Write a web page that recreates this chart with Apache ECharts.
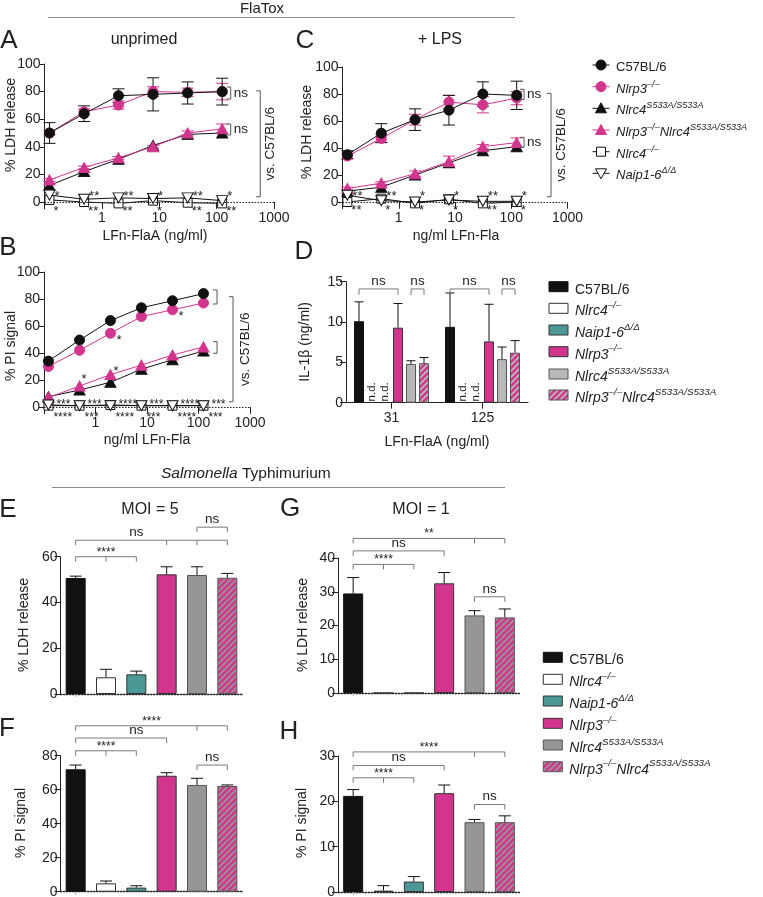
<!DOCTYPE html>
<html><head><meta charset="utf-8">
<script src="https://cdn.jsdelivr.net/npm/echarts@6/dist/echarts.min.js"></script>
<style>html,body{margin:0;padding:0;background:#fff}#c{width:763px;height:897px}</style>
</head><body><div id="c"></div>
<script>
// ===================== DATA =====================
const conc = [0.122, 0.49, 1.95, 7.8, 31.25, 125];
const lineYTicks = [0, 20, 40, 60, 80, 100];
// Panel A (unprimed, % LDH release)
const aC57 = [50, 64, 77, 78, 79, 80];
const aC57Err = [7.5, 5.7, 5, 12, 8, 9.7];
const aNlrp3 = [50, 65.4, 70.3, 80, 79.5, 80];
const aNlrp3Err = [1.5, 2, 3, 3.5, 3, 6];
const aS533A = [12, 22, 31, 41, 49, 50];
const aDbl = [16, 25, 32, 40, 50, 53];
const aDblErr = [1, 1, 1, 1, 1.5, 3.5];
const aNlrc4 = [1.5, 0, -1, 1, -0.5, -1];
const aNaip = [5, 2, 3, 2.5, 3, 1];
const aStarsTop = ['*', '**', '**', '*', '**', '*'];
const aStarsBot = ['*', '**', '**', '*', '**', '**'];
// Panel C (+LPS, % LDH release)
const cC57 = [35, 51, 61, 68, 80, 79];
const cC57Err = [3, 7, 8, 11, 9, 10.5];
const cNlrp3 = [34, 47, 61, 74, 72, 77];
const cNlrp3Err = [2, 3, 4, 5, 6, 5];
const cS533A = [8, 11, 20, 29, 38, 41];
const cDbl = [10, 14, 21, 30, 41, 44];
const cDblErr = [1, 1, 2, 4, 1.5, 3.5];
const cNlrc4 = [0, 2.5, -1, 2, -1, 0];
const cNaip = [5, 1, 0, 1.5, 0.5, 0.5];
const cStarsTop = ['**', '**', '*', '*', '**', '*'];
const cStarsBot = ['**', '*', '*', '*', '**', '*'];
// Panel B (% PI signal)
const bC57 = [34, 49.6, 64, 73.5, 78.7, 84];
const bNlrp3 = [30, 42, 54.6, 67, 72, 77];
const bS533A = [7.6, 12.6, 18.3, 28, 35, 41.5];
const bDbl = [7, 15.5, 24, 31, 38.5, 44.5];
const bNlrc4 = [1, 1, 1.5, 1, 1, 1];
const bNaip = [1.5, 1, 1, 1, 1, 1];
const bStarsTop = ['***', '***', '****', '***', '****', '***'];
const bStarsBot = ['****', '***', '****', '***', '****', '***'];
// Panel D (IL-1beta ng/ml)
const dCats = ['31', '125'];
const dC57 = [10.1, 9.4],  dC57Err = [2.4, 4.2];
const dNlrc4 = [null, null], dNaip = [null, null];
const dNlrp3 = [9.3, 7.6], dNlrp3Err = [3.0, 4.6];
const dS533A = [4.8, 5.4], dS533AErr = [0.4, 1.5];
const dDbl = [4.9, 6.2],   dDblErr = [0.7, 1.5];
// Panels E-H (Salmonella)
const genotypes = ['C57BL/6', 'Nlrc4-/-', 'Naip1-6', 'Nlrp3-/-', 'Nlrc4 S533A', 'Nlrp3-/- Nlrc4 S533A'];
const eLDH = [50.7, 7.3, 8.6, 52.3, 52, 50.8], eErr = [0.8, 3.5, 1.4, 3.3, 3.6, 1.9];
const fPI  = [72, 4.9, 2.4, 68.2, 62.8, 62.2], fErr = [2.5, 1.4, 1.1, 1.8, 3.9, 0.6];
const gLDH = [29.5, 0, 0, 32.5, 23, 22.4],     gErr = [4.7, 0, 0, 3.2, 1.4, 2.5];
const hPI  = [21.2, 0.3, 2.3, 21.8, 15.4, 15.4], hErr = [1.4, 1.1, 1.1, 1.8, 0.6, 1.4];

// ===================== STYLE =====================
const FONT = '"Liberation Sans", Arial, Helvetica, sans-serif';
const BLACK = '#111111', PINK = '#d2358e', TEAL = '#4b9896', GREYD = '#b8b8b8', GREYE = '#969696', BR = '#7a7a7a', TXT = '#222';
const Y_MIN_LINE = -5;

function hatch(bg, stripe) {
  const s = 6, c = document.createElement('canvas'); c.width = s; c.height = s;
  const g = c.getContext('2d');
  g.fillStyle = bg; g.fillRect(0, 0, s, s);
  g.strokeStyle = stripe; g.lineWidth = 1.8;
  g.beginPath();
  g.moveTo(0, s); g.lineTo(s, 0);
  g.moveTo(-s / 2, s / 2); g.lineTo(s / 2, -s / 2);
  g.moveTo(s / 2, s * 1.5); g.lineTo(s * 1.5, s / 2);
  g.stroke();
  return c;
}
const hatchD = hatch(PINK, '#b9b9b9');
const hatchE = hatch(PINK, '#969696');

const grids = [
  {left: 44.5, top: 64, width: 229.5, height: 144.9},  // 0 A
  {left: 44, top: 272, width: 206, height: 141.75},    // 1 B
  {left: 342.5, top: 67, width: 225, height: 141.75},  // 2 C
  {left: 346, top: 281.7, width: 182, height: 121},    // 3 D
  {left: 60.5, top: 556.7, width: 182, height: 137.3}, // 4 E
  {left: 60.5, top: 755.7, width: 182, height: 136},   // 5 F
  {left: 338, top: 558, width: 182, height: 135},      // 6 G
  {left: 338, top: 756, width: 182, height: 136}       // 7 H
];

function logX(gi, tickLen) {
  return {type: 'log', gridIndex: gi, logBase: 10, min: 0.1, max: 1000,
    axisLine: {show: false, onZero: false},
    axisTick: {show: true, length: tickLen, inside: true, lineStyle: {color: '#222'}},
    axisLabel: {fontSize: 14, color: TXT, fontFamily: FONT, margin: 2,
      formatter: v => (v < 0.5 ? '' : String(Math.round(v)))},
    splitLine: {show: false}, minorTick: {show: false}, minorSplitLine: {show: false}};
}
function lineY(gi) {
  return {type: 'value', gridIndex: gi, min: Y_MIN_LINE, max: 100,
    axisLine: {show: true, onZero: false, lineStyle: {color: '#222'}},
    axisTick: {show: true, length: 5, customValues: lineYTicks, lineStyle: {color: '#222'}},
    axisLabel: {fontSize: 14, color: TXT, margin: 4, fontFamily: FONT, customValues: lineYTicks},
    splitLine: {show: false}};
}
function barY(gi, max, interval) {
  return {type: 'value', gridIndex: gi, min: 0, max: max, interval: interval,
    axisLine: {show: true, onZero: false, lineStyle: {color: '#222'}},
    axisTick: {show: true, length: 6, lineStyle: {color: '#222'}},
    axisLabel: {fontSize: 14, color: TXT, margin: 3, fontFamily: FONT},
    splitLine: {show: false}};
}
function catX(gi, cats, showLabels) {
  return {type: 'category', gridIndex: gi, data: cats, boundaryGap: true,
    axisLine: {show: true, onZero: false, lineStyle: showLabels ? {color: '#222', width: 1} : {color: '#222', type: [1.5, 1.5], width: 1.3}},
    axisTick: {show: true, alignWithLabel: true, length: showLabels ? 6 : 3, lineStyle: {color: showLabels ? '#222' : '#aaa'}},
    axisLabel: {show: showLabels, fontSize: 14, color: TXT, fontFamily: FONT, margin: 8},
    splitLine: {show: false}};
}

// ---------- series helpers ----------
function lineSeries(gi, ys, color, fill, symbol, size, rotate, z) {
  return {type: 'line', xAxisIndex: gi, yAxisIndex: gi, data: conc.map((c, i) => [c, ys[i]]),
    symbol: symbol, symbolSize: size, symbolRotate: rotate || 0, showSymbol: true,
    itemStyle: {color: fill, borderColor: color, borderWidth: 1, opacity: 1},
    lineStyle: {color: color, width: 1}, z: z || 3, silent: true};
}
function errSeries(gi, xs, ys, errs, color, cap, upOnly, offsetPx) {
  const data = [];
  ys.forEach((v, i) => { if (v != null && errs[i] > 0) data.push([xs[i], v, errs[i]]); });
  return {type: 'custom', xAxisIndex: gi, yAxisIndex: gi, silent: true, clip: false, z: 2, data: data,
    renderItem: function (p, api) {
      const x = api.value(0), v = api.value(1), e = api.value(2);
      const top = api.coord([x, v + e]), bot = api.coord([x, upOnly ? v : v - e]);
      const cx = top[0] + (offsetPx || 0), hw = cap / 2;
      const st = {stroke: color, lineWidth: 1};
      const ch = [
        {type: 'line', shape: {x1: cx, y1: top[1], x2: cx, y2: bot[1]}, style: st},
        {type: 'line', shape: {x1: cx - hw, y1: top[1], x2: cx + hw, y2: top[1]}, style: st}];
      if (!upOnly) ch.push({type: 'line', shape: {x1: cx - hw, y1: bot[1], x2: cx + hw, y2: bot[1]}, style: st});
      return {type: 'group', children: ch};
    }};
}
function annotSeries(gi, list) {
  return {type: 'custom', xAxisIndex: gi, yAxisIndex: gi, silent: true, clip: false, z: 6,
    data: list.map(a => [a.x !== undefined ? a.x : a.x1, a.y !== undefined ? a.y : a.y1]),
    renderItem: function (params, api) {
      const a = list[params.dataIndex];
      const ch = [];
      const stroke = a.color || BR;
      const ts = (txt, size, align) => ({text: txt, fontSize: size, fontFamily: FONT, fill: TXT, align: align, verticalAlign: 'middle'});
      if (a.t === 'br') {
        const p1 = api.coord([a.x1, a.y]);
        const y = p1[1];
        const x1 = p1[0] + (a.o1 || 0);
        const x2 = api.coord([a.x2, a.y])[0] + (a.o2 || 0);
        const h = a.h || 5;
        ch.push({type: 'polyline', shape: {points: [[x1, y + h], [x1, y], [x2, y], [x2, y + h]]}, style: {fill: null, stroke: stroke, lineWidth: 1}});
        (a.mids || []).forEach(m => {
          const xm = api.coord([m, a.y])[0];
          ch.push({type: 'line', shape: {x1: xm, y1: y, x2: xm, y2: y + h}, style: {stroke: stroke, lineWidth: 1}});
        });
        if (a.text) {
          const tx = a.tx !== undefined ? api.coord([a.tx, a.y])[0] : (x1 + x2) / 2;
          const star = a.text.indexOf('*') >= 0;
          ch.push({type: 'text', x: tx, y: y + (star ? -4.5 : -8), style: ts(a.text, star ? 12 : 13.5, 'center')});
        }
      } else if (a.t === 'vb') {
        const p1 = api.coord([a.x, a.y1]), p2 = api.coord([a.x, a.y2]);
        const arm = a.arm || 4, x = p1[0];
        ch.push({type: 'polyline', shape: {points: [[x - arm, p1[1]], [x, p1[1]], [x, p2[1]], [x - arm, p2[1]]]}, style: {fill: null, stroke: a.color || '#555', lineWidth: 1}});
        if (a.text) {
          const ty = a.ty !== undefined ? api.coord([a.x, a.ty])[1] : (p1[1] + p2[1]) / 2;
          ch.push({type: 'text', x: x + a.tdx, y: ty, rotation: a.rot ? Math.PI / 2 : 0, style: ts(a.text, 13.5, a.rot ? 'center' : 'left')});
        }
      } else if (a.t === 'tx') {
        const p = api.coord([a.x, a.y]);
        ch.push({type: 'text', x: p[0] + (a.dx || 0), y: p[1], rotation: a.rot ? Math.PI / 2 : 0, style: ts(a.text, a.size || 13, a.align || 'left')});
      }
      return {type: 'group', children: ch};
    }};
}
function starRows(top, bot, yTop, yBot, dxTop, dxBot, size) {
  const out = [];
  conc.forEach((c, i) => {
    out.push({t: 'tx', x: c, y: yTop, dx: dxTop, text: top[i], size: size});
    out.push({t: 'tx', x: c, y: yBot, dx: dxBot, text: bot[i], size: size});
  });
  return out;
}
const zeroLine = {silent: true, symbol: ['none', 'none'], label: {show: false}, animation: false,
  lineStyle: {color: '#222', type: [1.5, 1.5], width: 1.2}, data: [{yAxis: 0}]};
function lineSet(gi, d) {
  const naip = lineSeries(gi, d.naip, BLACK, '#ffffff', 'triangle', [11, 10], 180, 5);
  const base = errSeries(gi, conc, d.nlrp3, d.nlrp3Err || [], PINK, 12, false);
  base.markLine = zeroLine;
  return [
    base,
    errSeries(gi, conc, d.c57, d.c57Err || [], BLACK, 12, false),
    errSeries(gi, conc, d.dbl, d.dblErr || [], PINK, 12, false),
    lineSeries(gi, d.nlrp3, PINK, PINK, 'circle', 10, 0, 3),
    lineSeries(gi, d.c57, BLACK, BLACK, 'circle', 10, 0, 4),
    lineSeries(gi, d.s533a, BLACK, BLACK, 'triangle', [11, 10], 0, 3),
    lineSeries(gi, d.dbl, PINK, PINK, 'triangle', [11, 10], 0, 4),
    lineSeries(gi, d.nlrc4, BLACK, '#ffffff', 'rect', 9, 0, 4),
    naip
  ];
}

// ---------- annotations ----------
const annA = [
  {t: 'vb', x: 176, y1: 83.3, y2: 74.6, text: 'ns', tdx: 3},
  {t: 'vb', x: 176, y1: 56.5, y2: 48.6, text: 'ns', tdx: 3},
  {t: 'vb', x: 575, y1: 80.6, y2: 3.8, text: 'vs. C57BL/6', tdx: 10, rot: true}
].concat(starRows(aStarsTop, aStarsBot, 4.3, -6.5, 5, 4, 13));
const annC = [
  {t: 'vb', x: 169, y1: 83.5, y2: 76, text: 'ns', tdx: 3},
  {t: 'vb', x: 169, y1: 47.9, y2: 40.5, text: 'ns', tdx: 3},
  {t: 'vb', x: 509, y1: 80.5, y2: 3.9, text: 'vs. C57BL/6', tdx: 10, rot: true}
].concat(starRows(cStarsTop, cStarsBot, 4.4, -5.9, 5, 4, 13));
const annB = [
  {t: 'vb', x: 229, y1: 86.7, y2: 76.3},
  {t: 'vb', x: 229, y1: 48.4, y2: 39.8},
  {t: 'vb', x: 468, y1: 81.7, y2: 3.9, text: 'vs. C57BL/6', tdx: 12, rot: true},
  {t: 'tx', x: conc[2], y: 49.4, dx: 6, text: '*'},
  {t: 'tx', x: conc[4], y: 67.2, dx: 6, text: '*'},
  {t: 'tx', x: conc[1], y: 20.2, dx: 2, text: '*'},
  {t: 'tx', x: conc[2], y: 26.4, dx: 3, text: '*'}
].concat(starRows(bStarsTop, bStarsBot, 1.7, -8.1, 8, 5, 12));
const D_SLOT = 13;
const dOff = k => (k - 2.5) * D_SLOT;
const annD = [
  {t: 'br', x1: 0, o1: dOff(0), x2: 0, o2: dOff(3), y: 14.1, text: 'ns', h: 6},
  {t: 'br', x1: 0, o1: dOff(4), x2: 0, o2: dOff(5), y: 14.1, text: 'ns', h: 6},
  {t: 'br', x1: 1, o1: dOff(0), x2: 1, o2: dOff(3), y: 14.1, text: 'ns', h: 6},
  {t: 'br', x1: 1, o1: dOff(4), x2: 1, o2: dOff(5), y: 14.1, text: 'ns', h: 6},
  {t: 'tx', x: 0, y: 1.35, dx: dOff(1), text: 'n.d.', rot: true, size: 11.5, align: 'center'},
  {t: 'tx', x: 0, y: 1.35, dx: dOff(2), text: 'n.d.', rot: true, size: 11.5, align: 'center'},
  {t: 'tx', x: 1, y: 1.35, dx: dOff(1), text: 'n.d.', rot: true, size: 11.5, align: 'center'},
  {t: 'tx', x: 1, y: 1.35, dx: dOff(2), text: 'n.d.', rot: true, size: 11.5, align: 'center'}
];
const annE = [
  {t: 'br', x1: 0, x2: 2, y: 60.0, mids: [1], text: '****'},
  {t: 'br', x1: 0, x2: 5, y: 67.2, mids: [3, 4], text: 'ns', tx: 1.95},
  {t: 'br', x1: 4, x2: 5, y: 72.9, text: 'ns'}
];
const annF = [
  {t: 'br', x1: 0, x2: 5, y: 97.6, mids: [4], text: '****'},
  {t: 'br', x1: 0, x2: 3, y: 90.4, text: 'ns', tx: 1.75},
  {t: 'br', x1: 0, x2: 2, y: 82.9, mids: [1], text: '****'},
  {t: 'br', x1: 4, x2: 5, y: 74.5, text: 'ns'}
];
const annG = [
  {t: 'br', x1: 0, x2: 5, y: 45.8, mids: [4], text: '**'},
  {t: 'br', x1: 0, x2: 3, y: 42.1, text: 'ns'},
  {t: 'br', x1: 0, x2: 2, y: 38.1, mids: [1], text: '****'},
  {t: 'br', x1: 4, x2: 5, y: 28.5, text: 'ns'}
];
const annH = [
  {t: 'br', x1: 0, x2: 5, y: 30.9, mids: [4], text: '****'},
  {t: 'br', x1: 0, x2: 3, y: 27.9, text: 'ns'},
  {t: 'br', x1: 0, x2: 2, y: 25.2, mids: [1], text: '****'},
  {t: 'br', x1: 4, x2: 5, y: 19.3, text: 'ns'}
];

// ---------- bars ----------
function genoStyles(grey, hatchImg) {
  return [
    {color: BLACK, borderColor: BLACK},
    {color: '#ffffff', borderColor: '#333'},
    {color: TEAL, borderColor: '#333'},
    {color: PINK, borderColor: '#333'},
    {color: grey, borderColor: '#555'},
    {color: {image: hatchImg, repeat: 'repeat'}, borderColor: '#555'}
  ];
}
function genoBars(gi, vals, errs) {
  const st = genoStyles(GREYE, hatchE);
  return [
    {type: 'bar', xAxisIndex: gi, yAxisIndex: gi, barWidth: 20, silent: true, z: 2,
      data: vals.map((v, i) => ({value: v, itemStyle: Object.assign({borderWidth: 1}, st[i])}))},
    errSeries(gi, vals.map((v, i) => i), vals, errs, BLACK, 12, true)
  ];
}
const dDefs = [[dC57, dC57Err], [dNlrc4, [0, 0]], [dNaip, [0, 0]], [dNlrp3, dNlrp3Err], [dS533A, dS533AErr], [dDbl, dDblErr]];
const dStyles = genoStyles(GREYD, hatchD);
const dSeries = [];
dDefs.forEach((d, k) => {
  dSeries.push({type: 'bar', xAxisIndex: 3, yAxisIndex: 3, barWidth: 10, barGap: '30%', silent: true, z: 2,
    data: d[0], itemStyle: Object.assign({borderWidth: 1}, dStyles[k])});
});
dDefs.forEach((d, k) => { dSeries.push(errSeries(3, [0, 1], d[0], d[1], BLACK, 9, true, dOff(k))); });

// ---------- graphic (titles, legends) ----------
function T(x, y, text, size, o) {
  o = o || {};
  return {type: 'text', x: x, y: y, rotation: o.rot ? Math.PI / 2 : 0, silent: true, z: 10,
    style: {text: text, fontSize: size, fontFamily: FONT, fill: TXT, align: o.align || 'center', verticalAlign: 'middle',
      fontStyle: o.italic ? 'italic' : 'normal', rich: o.rich}};
}
function richFor(size) {
  const lh = Math.round(size * 1.25);
  return {
    n: {fontSize: size, fontFamily: FONT, fill: TXT, color: TXT, lineHeight: lh, verticalAlign: 'bottom'},
    i: {fontSize: size, fontFamily: FONT, fontStyle: 'italic', fill: TXT, color: TXT, lineHeight: lh, verticalAlign: 'bottom'},
    s: {fontSize: size * 0.7, fontFamily: FONT, fontStyle: 'italic', fill: TXT, color: TXT, lineHeight: size * 0.72, verticalAlign: 'top'}
  };
}
const legendLabels = {
  c57: '{n|C57BL/6}',
  nlrp3: '{i|Nlrp3}{s|–/–}',
  s533a: '{i|Nlrc4}{s|S533A/S533A}',
  dbl: '{i|Nlrp3}{s|–/–}{i|Nlrc4}{s|S533A/S533A}',
  nlrc4: '{i|Nlrc4}{s|–/–}',
  naip: '{i|Naip1-6}{s|Δ/Δ}'
};
function legText(x, y, key, size) {
  return {type: 'text', x: x, y: y + 1, silent: true, z: 10,
    style: {text: legendLabels[key], rich: richFor(size), align: 'left', verticalAlign: 'middle', fontSize: size, fontFamily: FONT, fill: TXT}};
}
const graphics = [];
// headers
graphics.push(T(262, 9, 'FlaTox', 15));
graphics.push({type: 'line', silent: true, shape: {x1: 48, y1: 17.5, x2: 515, y2: 17.5}, style: {stroke: '#8a8a8a', lineWidth: 1.2}});
graphics.push({type: 'text', x: 161, y: 474, silent: true,
  style: {text: '{i|Salmonella}{n| Typhimurium}', rich: {i: {fontSize: 15.5, fontFamily: FONT, fontStyle: 'italic', fill: TXT}, n: {fontSize: 15.5, fontFamily: FONT, fill: TXT}}, align: 'left', verticalAlign: 'middle'}});
graphics.push({type: 'line', silent: true, shape: {x1: 52, y1: 487.5, x2: 505, y2: 487.5}, style: {stroke: '#8a8a8a', lineWidth: 1.2}});
// panel letters
[['A', 9, 41], ['B', 8, 248], ['C', 305, 41], ['D', 304, 252], ['E', 8, 510], ['F', 7, 729], ['G', 290, 509], ['H', 289, 732]]
  .forEach(l => graphics.push(T(l[1], l[2], l[0], 26)));
// panel subtitles
graphics.push(T(144, 40, 'unprimed', 16));
graphics.push(T(440, 40, '+ LPS', 16));
graphics.push(T(150, 510, 'MOI = 5', 16));
graphics.push(T(421, 510, 'MOI = 1', 16));
// axis titles
graphics.push(T(11, 125, '% LDH release', 14, {rot: true}));
graphics.push(T(155, 236, 'LFn-FlaA (ng/ml)', 14));
graphics.push(T(307, 132, '% LDH release', 14, {rot: true}));
graphics.push(T(456, 236, 'ng/ml LFn-Fla', 14));
graphics.push(T(11, 346, '% PI signal', 14, {rot: true}));
graphics.push(T(147, 440, 'ng/ml LFn-Fla', 14));
graphics.push(T(305, 342, 'IL-1β (ng/ml)', 14, {rot: true}));
graphics.push(T(437, 442, 'LFn-FlaA (ng/ml)', 14));
graphics.push(T(24, 625, '% LDH release', 14, {rot: true}));
graphics.push(T(21, 823, '% PI signal', 14, {rot: true}));
graphics.push(T(303, 625, '% LDH release', 14, {rot: true}));
graphics.push(T(302, 823, '% PI signal', 14, {rot: true}));
// legend 1 (line charts)
const leg1Keys = ['c57', 'nlrp3', 's533a', 'dbl', 'nlrc4', 'naip'];
const leg1Y = [65, 86.7, 108.3, 130, 151.7, 173.3];
leg1Keys.forEach((k, i) => {
  const y = leg1Y[i], cx = 601;
  const col = (k === 'nlrp3' || k === 'dbl') ? PINK : BLACK;
  graphics.push({type: 'line', silent: true, shape: {x1: 592.5, y1: y, x2: 609.5, y2: y}, style: {stroke: col, lineWidth: 1}});
  let m;
  if (k === 'c57' || k === 'nlrp3') m = {type: 'circle', shape: {cx: cx, cy: y, r: 5}, style: {fill: col, stroke: col}};
  else if (k === 's533a' || k === 'dbl') m = {type: 'polygon', shape: {points: [[cx, y - 5.5], [cx - 5.5, y + 4.5], [cx + 5.5, y + 4.5]]}, style: {fill: col, stroke: col}};
  else if (k === 'nlrc4') m = {type: 'rect', shape: {x: cx - 4.5, y: y - 4.5, width: 9, height: 9}, style: {fill: '#fff', stroke: BLACK, lineWidth: 1}};
  else m = {type: 'polygon', shape: {points: [[cx, y + 5.5], [cx - 5.5, y - 4.5], [cx + 5.5, y - 4.5]]}, style: {fill: '#fff', stroke: BLACK, lineWidth: 1}};
  m.silent = true; m.z = 11;
  graphics.push(m);
  graphics.push(legText(616, y, k, 13));
});
// bar legends
const barKeys = ['c57', 'nlrc4', 'naip', 'nlrp3', 's533a', 'dbl'];
function barLegend(x, tx, ys, styles) {
  barKeys.forEach((k, i) => {
    const s = styles[i];
    graphics.push({type: 'rect', silent: true, z: 11, shape: {x: x, y: ys[i] - 5, width: 19, height: 10},
      style: {fill: s.color, stroke: s.borderColor, lineWidth: 1}});
    graphics.push(legText(tx, ys[i], k, 14));
  });
}
barLegend(549, 575, [286.7, 308.3, 330, 351.7, 374, 395], dStyles);
barLegend(543.3, 569.3, [657.3, 679.3, 701, 723.3, 745, 766.7], genoStyles(GREYE, hatchE));

// ===================== OPTION =====================
const option = {
  animation: false,
  backgroundColor: '#ffffff',
  textStyle: {fontFamily: FONT},
  grid: grids.map(g => Object.assign({containLabel: false, outerBoundsMode: 'none'}, g)),
  xAxis: [logX(0, 6.9), logX(1, 6.75), logX(2, 6.75), catX(3, dCats, true), catX(4, genotypes, false), catX(5, genotypes, false), catX(6, genotypes, false), catX(7, genotypes, false)],
  yAxis: [lineY(0), lineY(1), lineY(2), barY(3, 15, 5), barY(4, 60, 20), barY(5, 80, 20), barY(6, 40, 10), barY(7, 30, 10)],
  series: [].concat(
    lineSet(0, {c57: aC57, c57Err: aC57Err, nlrp3: aNlrp3, nlrp3Err: aNlrp3Err, s533a: aS533A, dbl: aDbl, dblErr: aDblErr, nlrc4: aNlrc4, naip: aNaip}),
    lineSet(1, {c57: bC57, nlrp3: bNlrp3, s533a: bS533A, dbl: bDbl, nlrc4: bNlrc4, naip: bNaip}),
    lineSet(2, {c57: cC57, c57Err: cC57Err, nlrp3: cNlrp3, nlrp3Err: cNlrp3Err, s533a: cS533A, dbl: cDbl, dblErr: cDblErr, nlrc4: cNlrc4, naip: cNaip}),
    dSeries,
    genoBars(4, eLDH, eErr), genoBars(5, fPI, fErr), genoBars(6, gLDH, gErr), genoBars(7, hPI, hErr),
    [annotSeries(0, annA), annotSeries(1, annB), annotSeries(2, annC), annotSeries(3, annD),
     annotSeries(4, annE), annotSeries(5, annF), annotSeries(6, annG), annotSeries(7, annH)]
  ),
  graphic: graphics
};
const chart = echarts.init(document.getElementById('c'), null, {renderer: 'canvas'});
chart.setOption(option);
</script></body></html>
